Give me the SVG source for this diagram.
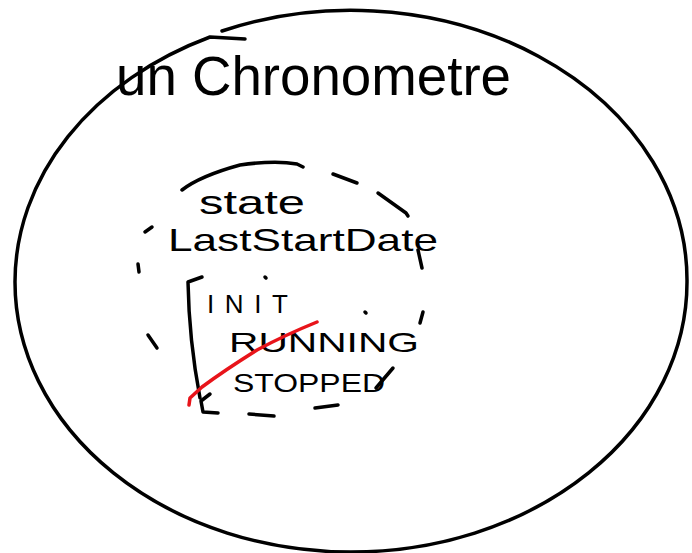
<svg xmlns="http://www.w3.org/2000/svg" width="692" height="553" viewBox="0 0 692 553">
<style>
.ink{fill:none;stroke:#000;stroke-width:3.5;stroke-linecap:round;stroke-linejoin:round}
.red{fill:none;stroke:#e8141a;stroke-width:3.5;stroke-linecap:round;stroke-linejoin:round}
.hand{font-family:"Liberation Sans",Arial,sans-serif;fill:#000}
</style>
<rect width="692" height="553" fill="#fff"/>
<g id="chronometre">
<path class="ink" d="M222,31 A336 270 0 0 1 687,282 A336 270 0 0 1 351,552 A336 270 0 0 1 15,282 A336 270 0 0 1 210,37 L245,39"/>
<text class="hand" x="116" y="95" font-size="56" textLength="395" lengthAdjust="spacingAndGlyphs">un Chronometre</text>
</g>
<g id="state-object">
<path class="ink" d="M182,190 Q200,176 240,165 Q275,160 297,164 L303,167"/>
<path class="ink" d="M333,174 L357,183"/>
<path class="ink" d="M378,193 L406,213 L408,216"/>
<path class="ink" d="M418,250 L422,268"/>
<path class="ink" d="M145,232 L152,227"/>
<path class="ink" d="M138,264 L139,272"/>
<path class="ink" d="M148,335 L157,348"/>
<path class="ink" d="M265,277 L266,278"/>
<path class="ink" d="M365,312 L366,313"/>
<path class="ink" d="M423,312 L420,323"/>
<path class="ink" d="M393,368 L376,388"/>
<path class="ink" d="M315,408 L338,405"/>
<path class="ink" d="M249,414 L274,416"/>
</g>
<g id="attr-state">
<text class="hand" x="199" y="214" font-size="34" textLength="106" lengthAdjust="spacingAndGlyphs">state</text>
</g>
<g id="attr-lastStartDate">
<text class="hand" x="168" y="251" font-size="32" textLength="270" lengthAdjust="spacingAndGlyphs">LastStartDate</text>
</g>
<g id="state-values">
<path class="ink" d="M202,277 L188,282 Q189,340 200,398"/>
<path class="ink" d="M210,394 L201,401 L203,412 L218,413"/>
<text class="hand" x="207" y="313" font-size="26" textLength="81">INIT</text>
<text class="hand" x="229" y="352" font-size="28" textLength="190" lengthAdjust="spacingAndGlyphs">RUNNING</text>
<text class="hand" x="233" y="392" font-size="26" textLength="152" lengthAdjust="spacingAndGlyphs">STOPPED</text>
</g>
<g id="connectors">
<path class="red" d="M317,322 Q285,335 257,350 Q225,370 202,387 L190,398 L189,405"/>
</g>
</svg>
